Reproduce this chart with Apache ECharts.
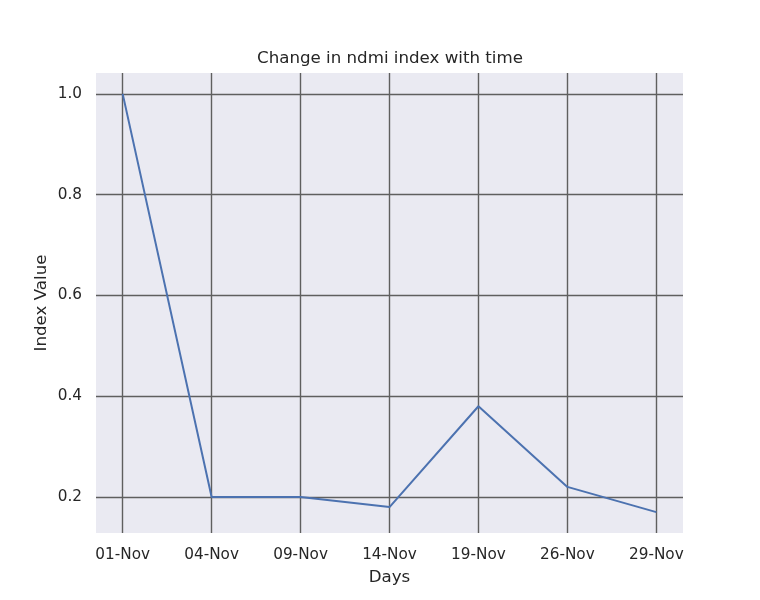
<!DOCTYPE html>
<html>
<head>
<meta charset="utf-8">
<script src="https://cdn.jsdelivr.net/npm/echarts@6/dist/echarts.min.js"></script>
<style>html,body{margin:0;padding:0;background:#fff}#c{width:760px;height:600px}</style>
</head>
<body>
<div id="c"></div>
<script>
const days = ['01-Nov', '04-Nov', '09-Nov', '14-Nov', '19-Nov', '26-Nov', '29-Nov'];
const ndmi = [1.0, 0.2, 0.2, 0.18, 0.38, 0.22, 0.17];
const yTicks = [0.2, 0.4, 0.6, 0.8, 1.0];

const xIdx = days.map((d, i) => i);
const dMin = Math.min(...ndmi), dMax = Math.max(...ndmi);
const pad = (dMax - dMin) * 0.05;
const xPad = (days.length - 1) * 0.05;

const chart = echarts.init(document.getElementById('c'));
const txt = '#262626';
const font = 'DejaVu Sans';
chart.setOption({
  animation: false,
  backgroundColor: '#ffffff',
  title: {
    text: 'Change in ndmi index with time',
    left: 252, top: 45,
    textStyle: { fontFamily: font, fontSize: 16.67, fontWeight: 'normal', color: txt }
  },
  grid: {
    left: 96, right: 77, top: 73, bottom: 67,
    show: true, backgroundColor: '#EAEAF2', borderWidth: 0
  },
  xAxis: {
    type: 'value',
    min: -xPad, max: days.length - 1 + xPad,
    name: 'Days', nameLocation: 'middle', nameGap: 36,
    nameTextStyle: { fontFamily: font, fontSize: 16.67, color: txt },
    axisLine: { show: false },
    axisTick: { show: false, customValues: xIdx },
    axisLabel: {
      customValues: xIdx, margin: 15,
      fontFamily: font, fontSize: 15.28, color: txt,
      formatter: v => days[Math.round(v)]
    },
    splitLine: { show: true, lineStyle: { color: '#5f5f5f', width: 1.4 } }
  },
  yAxis: {
    type: 'value',
    min: dMin - pad, max: dMax + pad,
    name: 'Index Value', nameLocation: 'middle', nameGap: 46, nameRotate: 90,
    nameMoveOverlap: false,
    nameTextStyle: { fontFamily: font, fontSize: 16.67, color: txt },
    axisLine: { show: false },
    axisTick: { show: false, customValues: yTicks },
    axisLabel: {
      customValues: yTicks, margin: 14,
      fontFamily: font, fontSize: 15.28, color: txt,
      formatter: v => v.toFixed(1)
    },
    splitLine: { show: true, lineStyle: { color: '#5f5f5f', width: 1.4 } }
  },
  series: [{
    type: 'line',
    data: ndmi.map((v, i) => [xIdx[i], v]),
    symbol: 'none',
    lineStyle: { color: '#4C72B0', width: 2 }
  }]
});
</script>
</body>
</html>
